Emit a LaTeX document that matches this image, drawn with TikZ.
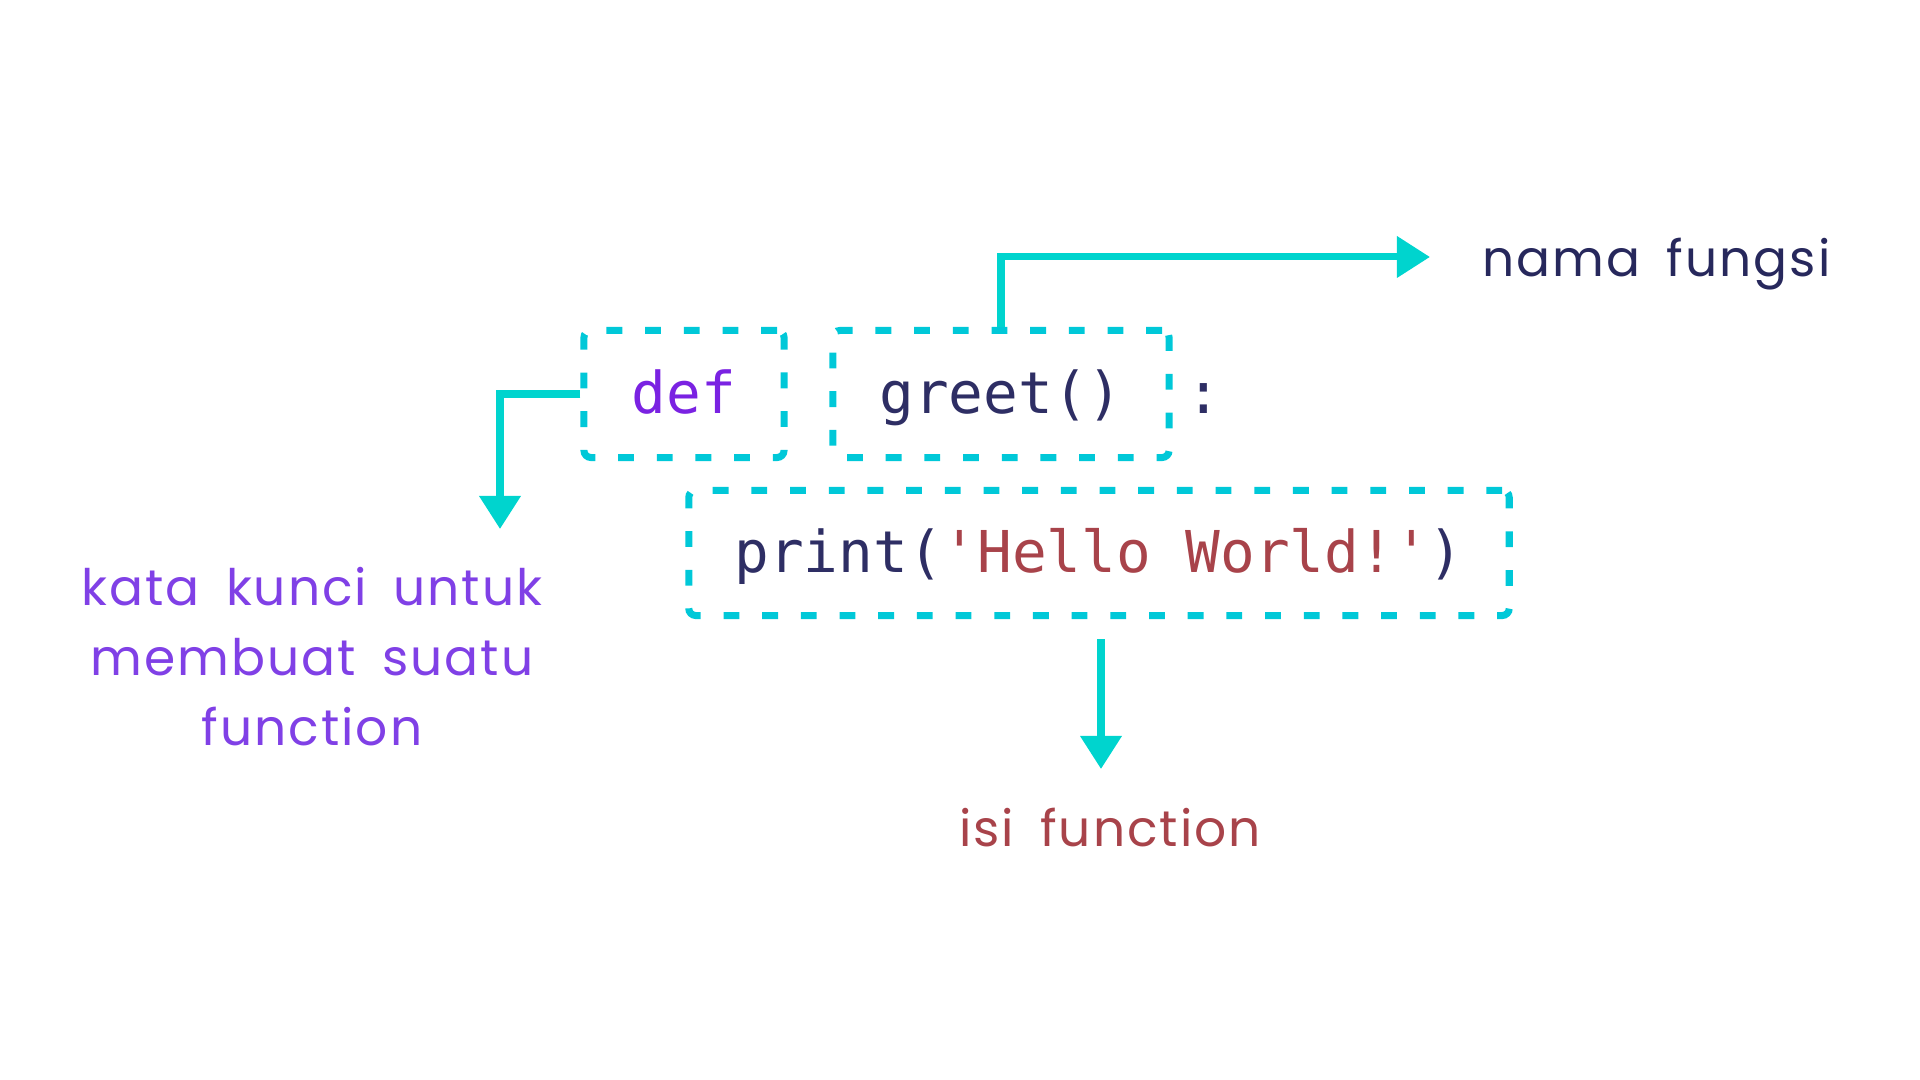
\documentclass[tikz,border=0pt]{standalone}
\usepackage{fontspec}
\setmonofont{DejaVu Sans Mono}
\newfontfamily\labelfont[LetterSpace=4, WordSpace=1.7]{Poppins}
\usetikzlibrary{arrows.meta}

\definecolor{boxcyan}{HTML}{00C8D8}
\definecolor{arrowcyan}{HTML}{00D4CE}
\definecolor{keypurple}{HTML}{7A22E2}
\definecolor{codenavy}{HTML}{2E2E64}
\definecolor{strred}{HTML}{A8434A}
\definecolor{notepurple}{HTML}{8040E6}
\definecolor{notenavy}{HTML}{27285C}

\begin{document}
\begin{tikzpicture}[x = 0.01cm, y = -0.01cm,
    codebox/.style = {draw = boxcyan, line width = 2pt, dash pattern = on 4.5pt off 6.5pt,
        rounded corners = 2pt, inner sep = 0pt, text height = 0.5cm, text depth = 0.1cm,
        font = \ttfamily\fontsize{16.4}{19}\selectfont},
    note/.style = {font = \labelfont\fontsize{14.3}{19.9}\selectfont, inner sep = 0pt},
    arrow/.style = {-{Triangle[width = 0.4cm, length = 0.33cm]}, draw = arrowcyan, line width = 2pt}]

    \useasboundingbox (0, 0) rectangle (1920, 1080);

% Code
    \node[codebox, minimum width = 2cm, minimum height = 1.27cm, text = keypurple] (def) at (684, 394) {def};
    \node[codebox, minimum width = 3.36cm, minimum height = 1.27cm, text = codenavy] (greet) at (1001, 394) {greet()};
    \node[font = \ttfamily\fontsize{16.4}{19}\selectfont, text = codenavy, text height = 0.5cm, text depth = 0.1cm,
        inner sep = 0pt] (colon) at (1204, 394) {:};
    \node[codebox, minimum width = 8.2cm, minimum height = 1.25cm, text = codenavy] (print) at (1099, 553)
        {print(\textcolor{strred}{'Hello World!'})};

% Notes
    \node[note, anchor = west, text = notenavy] (nama) at (1482, 264) {nama fungsi};
    \node[note, align = center, text = notepurple] (kata) at (312, 657) {kata kunci untuk\\membuat suatu\\function};
    \node[note, text = strred] (isi) at (1110, 828) {isi function};

% Directions
    \coordinate (deftip) at (500, 529);
    \coordinate (isitip) at (1101, 769);
    \draw[arrow, shorten > = 0.52cm] (greet.north) |- ([yshift = 0.07cm]nama.west);
    \draw[arrow] (def.west) -| (deftip);
    \draw[arrow, shorten < = 0.2cm] (print.south -| isitip) -- (isitip);

\end{tikzpicture}
\end{document}
